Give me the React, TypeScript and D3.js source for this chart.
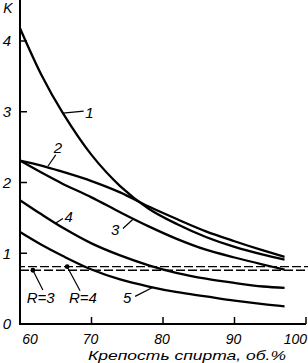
import React, { useEffect, useRef } from 'react';
import * as d3 from 'd3';

// крепость спирта, об.%
const strength = [60, 63, 66, 70, 74, 78, 82, 86, 90, 94, 97];

// K for each curve
const curve1 = [4.18, 3.52, 2.98, 2.39, 1.95, 1.63, 1.41, 1.23, 1.09, 0.98, 0.91];
const curve2 = [2.31, 2.24, 2.15, 2.02, 1.86, 1.66, 1.48, 1.31, 1.17, 1.04, 0.95];
const curve3 = [2.31, 2.14, 1.98, 1.79, 1.58, 1.38, 1.20, 1.05, 0.94, 0.84, 0.77];
const curve4 = [1.75, 1.55, 1.36, 1.14, 0.97, 0.83, 0.72, 0.64, 0.58, 0.53, 0.51];
const curve5 = [1.30, 1.12, 0.96, 0.77, 0.63, 0.53, 0.45, 0.39, 0.33, 0.28, 0.25];

const curveNames = ['1', '2', '3', '4', '5'];

// горизонтали для флегмового числа R
const refluxR = [3, 4];
const refluxK = [0.76, 0.81];

const xTicks = [60, 70, 80, 90, 100];
const yTicks = [0, 1, 2, 3, 4];

// where the callouts sit, in data units (strength, K)
const curveNotes = [
  { label: [69.7, 2.99], from: [66.0, 2.98], to: [68.9, 3.01] },
  { label: [65.3, 2.5], from: [63.9, 2.23], to: [65.0, 2.39] },
  { label: [73.3, 1.33], from: [75.8, 1.48], to: [74.4, 1.35] },
  { label: [66.8, 1.52], from: [64.9, 1.42], to: [66.0, 1.49] },
  { label: [75.0, 0.37], from: [78.6, 0.52], to: [76.1, 0.39] },
];
const refluxNotes = [
  { dot: 61.8, label: [62.9, 0.37], to: [63.2, 0.48] },
  { dot: 66.6, label: [68.8, 0.37], to: [68.4, 0.47] },
];

function App() {
  const svgRef = useRef(null);

  useEffect(() => {
    const svg = d3.select(svgRef.current);
    svg.selectAll('*').remove();

    const font = '"Liberation Sans", Arial, sans-serif';

    const x = d3.scaleLinear().domain([60, 100]).range([20, 306]);
    const y = d3.scaleLinear().domain([0, 4]).range([324, 41]);

    // axes
    svg.append('line')
      .attr('x1', x(60)).attr('x2', x(60))
      .attr('y1', y(0)).attr('y2', y(4.58))
      .attr('stroke', '#000').attr('stroke-width', 2);
    svg.append('line')
      .attr('x1', x(60) - 1).attr('x2', x(100))
      .attr('y1', y(0)).attr('y2', y(0))
      .attr('stroke', '#000').attr('stroke-width', 1.8);

    svg.selectAll('.ytick')
      .data(yTicks.filter(d => d > 0))
      .join('line')
      .attr('x1', x(60)).attr('x2', x(60) + 7)
      .attr('y1', d => y(d)).attr('y2', d => y(d))
      .attr('stroke', '#000').attr('stroke-width', 1.5);

    svg.selectAll('.xtick')
      .data(xTicks.filter(d => d > 60))
      .join('line')
      .attr('x1', d => x(d)).attr('x2', d => x(d))
      .attr('y1', y(0)).attr('y2', y(0) - 7)
      .attr('stroke', '#000').attr('stroke-width', 1.5);

    svg.selectAll('.ylab')
      .data(yTicks)
      .join('text')
      .attr('x', 7)
      .attr('y', d => y(d))
      .attr('dy', '0.36em')
      .attr('text-anchor', 'middle')
      .attr('font-family', font).attr('font-style', 'italic').attr('font-size', 15)
      .text(d => d);

    svg.append('text')
      .attr('x', 8).attr('y', 13)
      .attr('text-anchor', 'middle')
      .attr('font-family', font).attr('font-style', 'italic').attr('font-size', 14)
      .text('K');

    svg.selectAll('.xlab')
      .data(xTicks)
      .join('text')
      .attr('x', d => (d === 100 ? 307 : x(d) + (d === 60 ? 10 : -1)))
      .attr('y', 344)
      .attr('text-anchor', d => (d === 100 ? 'end' : 'middle'))
      .attr('font-family', font).attr('font-style', 'italic').attr('font-size', 14)
      .text(d => d);

    svg.append('text')
      .attr('x', 88).attr('y', 360)
      .attr('textLength', 198).attr('lengthAdjust', 'spacingAndGlyphs')
      .attr('font-family', font).attr('font-style', 'italic').attr('font-size', 13)
      .text('Крепость спирта, об.%');

    // reflux lines
    refluxK.forEach((k, i) => {
      svg.append('line')
        .attr('x1', x(60)).attr('x2', 308)
        .attr('y1', y(k)).attr('y2', y(k))
        .attr('stroke', '#000').attr('stroke-width', 1.3)
        .attr('stroke-dasharray', '9,3')
        .attr('stroke-dashoffset', i * 4);
    });

    // curves
    const line = d3.line()
      .x(d => x(d[0]))
      .y(d => y(d[1]))
      .curve(d3.curveCatmullRom.alpha(0.5));

    [curve1, curve2, curve3, curve4, curve5].forEach(vals => {
      svg.append('path')
        .datum(strength.map((s, i) => [s, vals[i]]))
        .attr('fill', 'none')
        .attr('stroke', '#000')
        .attr('stroke-width', 2.3)
        .attr('d', line);
    });

    // curve callouts
    curveNotes.forEach((n, i) => {
      svg.append('line')
        .attr('x1', x(n.from[0])).attr('y1', y(n.from[1]))
        .attr('x2', x(n.to[0])).attr('y2', y(n.to[1]))
        .attr('stroke', '#000').attr('stroke-width', 1.2);
      svg.append('text')
        .attr('x', x(n.label[0])).attr('y', y(n.label[1]))
        .attr('dy', '0.36em')
        .attr('text-anchor', 'middle')
        .attr('font-family', font).attr('font-style', 'italic').attr('font-size', 15)
        .text(curveNames[i]);
    });

    // reflux callouts
    refluxNotes.forEach((n, i) => {
      svg.append('circle')
        .attr('cx', x(n.dot)).attr('cy', y(refluxK[i]))
        .attr('r', 2.4).attr('fill', '#000');
      svg.append('line')
        .attr('x1', x(n.dot)).attr('y1', y(refluxK[i]))
        .attr('x2', x(n.to[0])).attr('y2', y(n.to[1]))
        .attr('stroke', '#000').attr('stroke-width', 1.2);
      svg.append('text')
        .attr('x', x(n.label[0])).attr('y', y(n.label[1]))
        .attr('dy', '0.36em')
        .attr('text-anchor', 'middle')
        .attr('font-family', font).attr('font-style', 'italic').attr('font-size', 15)
        .text(`R=${refluxR[i]}`);
    });
  }, []);

  return (
    <svg
      ref={svgRef}
      width={308}
      height={363}
      style={{ position: 'absolute', left: 0, top: 0, background: '#fff' }}
    ></svg>
  );
}

export default App;
